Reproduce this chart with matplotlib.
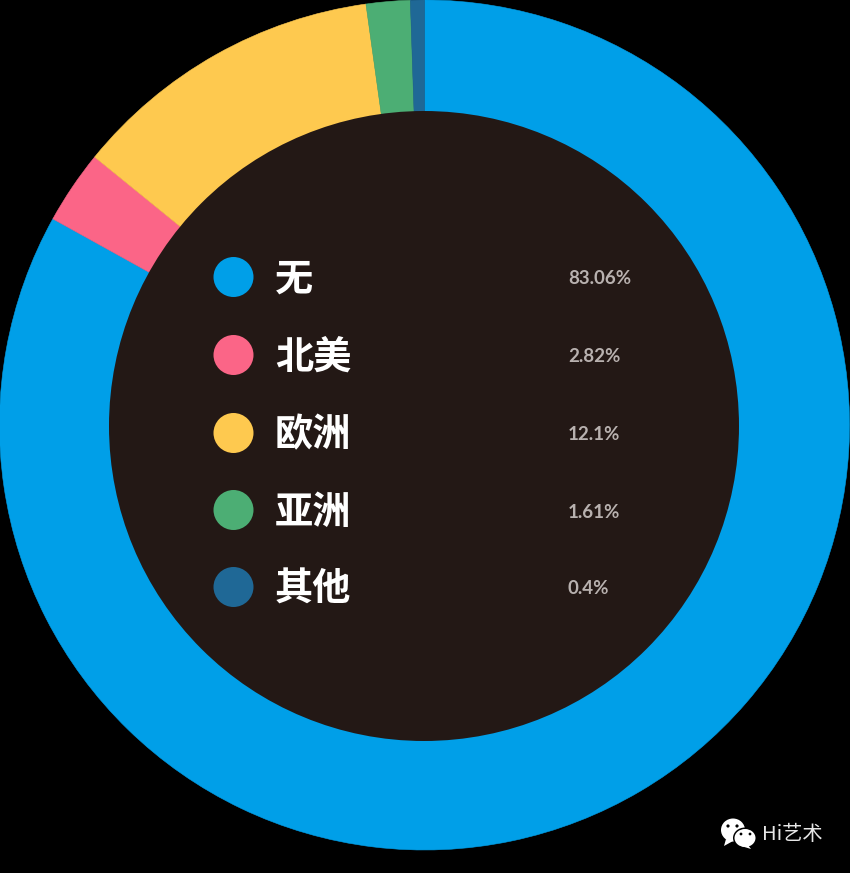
import matplotlib
matplotlib.use('Agg')
import matplotlib.pyplot as plt
from matplotlib.patches import Circle, Ellipse, Polygon

plt.rcParams['font.family'] = ['Noto Sans CJK SC', 'DejaVu Sans']

categories = ['无', '北美', '欧洲', '亚洲', '其他']
# printed labels
pct_labels = ['83.06%', '2.82%', '12.1%', '1.61%', '0.4%']
# slice widths as drawn in the picture, they differ a little from the labels
slice_shares = [83.06, 2.80, 11.94, 1.67, 0.53]
colors = ['#009fe8', '#fb6587', '#fec94f', '#4cae74', '#1f6896']
legend_y = [277, 355, 433, 510, 587]

W, H = 850, 873
fig = plt.figure(figsize=(W / 100, H / 100), dpi=100, facecolor='black')
ax = fig.add_axes([0, 0, 1, 1])


def py(y):
    # picture y (from the top) to axes y
    return H - y


wedges, _ = ax.pie(slice_shares, colors=colors, startangle=90, counterclock=False, radius=425,
                   center=(424.5, py(425)))
for w, col in zip(wedges, colors):
    w.set_edgecolor(col)
    w.set_linewidth(0.4)
ax.add_patch(Circle((424, py(426)), 315, color='#231815', lw=0, zorder=3))
ax.set_xlim(0, W)
ax.set_ylim(0, H)
ax.set_aspect('equal')
ax.axis('off')

for name, pct, col, y in zip(categories, pct_labels, colors, legend_y):
    ax.add_patch(Circle((233.5, py(y)), 20, color=col, lw=0, zorder=4))
    ax.text(275, py(y + 2), name, color='white', fontsize=27.5, fontweight='bold',
            va='center', ha='left', zorder=5)
    ax.text(568, py(y + 2), pct, color='#b8b1af', fontsize=13.5, fontweight='bold',
            family=['Lato', 'DejaVu Sans'], va='center', ha='left', zorder=5)

# watermark, two speech bubbles
ax.add_patch(Ellipse((733, py(830)), 24, 23, color='white', lw=0, zorder=5))
ax.add_patch(Polygon([(726, py(839)), (724, py(846)), (733, py(841))], color='white', lw=0, zorder=5))
ax.add_patch(Ellipse((745, py(838)), 24, 21, color='black', lw=0, zorder=6))
ax.add_patch(Ellipse((745, py(838)), 21, 18, color='white', lw=0, zorder=7))
ax.add_patch(Polygon([(748, py(845)), (751, py(849)), (741, py(846))], color='white', lw=0, zorder=7))
for ex, ey in [(728, 826), (737, 826)]:
    ax.add_patch(Circle((ex, py(ey)), 1.6, color='black', lw=0, zorder=5.5))
for ex, ey in [(741, 834), (750, 834)]:
    ax.add_patch(Circle((ex, py(ey)), 1.4, color='black', lw=0, zorder=8))
ax.text(762, py(835), 'Hi艺术', color='#e6e6e6', fontsize=14.5, va='center', ha='left', zorder=5)

fig.savefig('out.png', dpi=100, facecolor='black')
